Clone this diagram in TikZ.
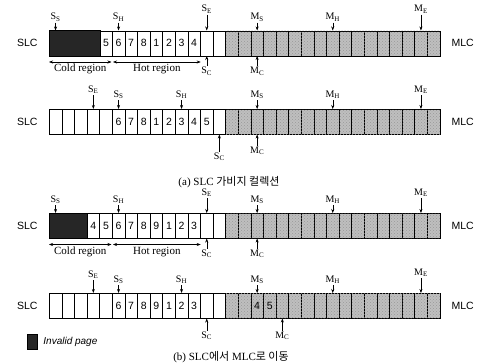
\documentclass[tikz,border=0pt]{standalone}
\usepackage{fontspec}
\setmainfont{Liberation Serif}
\setsansfont{Liberation Sans}
\newfontfamily\krfont{Noto Sans CJK KR}
\usetikzlibrary{positioning,fit,patterns,arrows.meta}

\begin{document}
\begin{tikzpicture}[
    x=1pt, y=-1pt,
    cell/.style={rectangle, draw, line width=0.5pt, anchor=north west, inner sep=0pt,
                 minimum width=12.6pt, minimum height=25pt,
                 font=\sffamily\fontsize{10.5}{11}\selectfont},
    slc/.style={cell, fill=white},
    mlc/.style={cell, fill=black!25, postaction={pattern=crosshatch dots, pattern color=black!40}},
    inv/.style={rectangle, draw, line width=0.5pt, inner sep=0pt, fill=black!85},
    lbl/.style={inner sep=1pt, font=\fontsize{10}{11}\selectfont},
    side/.style={font=\sffamily\fontsize{10.5}{12}\selectfont},
    ptr/.style={-{Stealth[length=4pt,width=3pt]}, line width=0.5pt},
    region/.style={{Stealth[length=4pt,width=3pt]}-{Stealth[length=4pt,width=3pt]}, line width=0.5pt},
    regtext/.style={inner sep=1pt, font=\fontsize{11}{12}\selectfont},
    caption/.style={font=\fontsize{11}{13}\selectfont}
  ]
  \useasboundingbox (0,0) rectangle (477,364);

  % ---- (a) row 1: before garbage collection ----
  \foreach \t [count=\i from 0] in {{},{},{},{},5,6,7,8,1,2,3,4,{},{}}
    \node[slc] (a\i) at ({49+\i*12.6},30.5) {\t};
  \foreach \i in {0,...,16}
    \node[mlc] (am\i) at ({225.4+\i*12.6},30.5) {};
  \node[inv, fit=(a0)(a3)] (ainv) {};
  \node[side, left=8pt of a0] (aslc) {SLC};
  \node[side, right=8pt of am16] (amlc) {MLC};

  \node[lbl, above=8pt of a0]   (ass) {S\textsubscript{S}};
  \node[lbl, above=8pt of a5]   (ash) {S\textsubscript{H}};
  \node[lbl, above=16pt of a12] (ase) {S\textsubscript{E}};
  \node[lbl, below=10pt of a12] (asc) {S\textsubscript{C}};
  \node[lbl, above=8pt of am2]  (ams) {M\textsubscript{S}};
  \node[lbl, above=8pt of am8]  (amh) {M\textsubscript{H}};
  \node[lbl, above=16pt of am15] (ame) {M\textsubscript{E}};
  \node[lbl, below=10pt of am2] (amc) {M\textsubscript{C}};
  \foreach \p/\c in {ass/a0, ash/a5, ase/a12, asc/a12, ams/am2, amh/am8, ame/am15, amc/am2}
    \draw[ptr] (\p) -- (\c);

  \draw[region] ([yshift=-6pt]a0.south west)
    -- node[regtext, below=1pt] (acold) {Cold region} ([yshift=-6pt,xshift=-1pt]a4.south east);
  \draw[region] ([yshift=-6pt,xshift=1pt]a5.south west)
    -- node[regtext, below=1pt] (ahot) {Hot region} ([yshift=-6pt]a11.south east);

  % ---- (a) row 2: after garbage collection ----
  \foreach \t [count=\i from 0] in {{},{},{},{},{},6,7,8,1,2,3,4,5,{}}
    \node[slc] (b\i) at ({49+\i*12.6},109) {\t};
  \foreach \i in {0,...,16}
    \node[mlc] (bm\i) at ({225.4+\i*12.6},109) {};
  \node[side, left=8pt of b0] (bslc) {SLC};
  \node[side, right=8pt of bm16] (bmlc) {MLC};

  \node[lbl, above=14pt of b3]  (bse) {S\textsubscript{E}};
  \node[lbl, above=9pt of b5]   (bss) {S\textsubscript{S}};
  \node[lbl, above=9pt of b10]  (bsh) {S\textsubscript{H}};
  \node[lbl, below=17pt of b13] (bsc) {S\textsubscript{C}};
  \node[lbl, above=9pt of bm2]  (bms) {M\textsubscript{S}};
  \node[lbl, above=9pt of bm8]  (bmh) {M\textsubscript{H}};
  \node[lbl, above=14pt of bm15] (bme) {M\textsubscript{E}};
  \node[lbl, below=11pt of bm2] (bmc) {M\textsubscript{C}};
  \foreach \p/\c in {bse/b3, bss/b5, bsh/b10, bsc/b13, bms/bm2, bmh/bm8, bme/bm15, bmc/bm2}
    \draw[ptr] (\p) -- (\c);

  \node[caption] (capa) at (229,182) {(a) SLC {\krfont 가비지 컬렉션}};

  % ---- (b) row 3: before moving ----
  \foreach \t [count=\i from 0] in {{},{},{},4,5,6,7,8,9,1,2,3,{},{}}
    \node[slc] (c\i) at ({49+\i*12.6},213) {\t};
  \foreach \i in {0,...,16}
    \node[mlc] (cm\i) at ({225.4+\i*12.6},213) {};
  \node[inv, fit=(c0)(c2)] (cinv) {};
  \node[side, left=8pt of c0] (cslc) {SLC};
  \node[side, right=8pt of cm16] (cmlc) {MLC};

  \node[lbl, above=8pt of c0]   (css) {S\textsubscript{S}};
  \node[lbl, above=8pt of c5]   (csh) {S\textsubscript{H}};
  \node[lbl, above=15pt of c12] (cse) {S\textsubscript{E}};
  \node[lbl, below=10pt of c12] (csc) {S\textsubscript{C}};
  \node[lbl, above=8pt of cm2]  (cms) {M\textsubscript{S}};
  \node[lbl, above=8pt of cm8]  (cmh) {M\textsubscript{H}};
  \node[lbl, above=15pt of cm15] (cme) {M\textsubscript{E}};
  \node[lbl, below=10pt of cm2] (cmc) {M\textsubscript{C}};
  \foreach \p/\c in {css/c0, csh/c5, cse/c12, csc/c12, cms/cm2, cmh/cm8, cme/cm15, cmc/cm2}
    \draw[ptr] (\p) -- (\c);

  \draw[region] ([yshift=-6pt]c0.south west)
    -- node[regtext, below=1pt] (ccold) {Cold region} ([yshift=-6pt,xshift=-1pt]c4.south east);
  \draw[region] ([yshift=-6pt,xshift=1pt]c5.south west)
    -- node[regtext, below=1pt] (chot) {Hot region} ([yshift=-6pt]c11.south east);

  % ---- (b) row 4: after moving to MLC ----
  \foreach \t [count=\i from 0] in {{},{},{},{},{},6,7,8,9,1,2,3,{},{}}
    \node[slc] (d\i) at ({49+\i*12.6},293) {\t};
  \foreach \t [count=\i from 0] in {{},{},4,5,{},{},{},{},{},{},{},{},{},{},{},{},{}}
    \node[mlc] (dm\i) at ({225.4+\i*12.6},293) {\t};
  \node[side, left=8pt of d0] (dslc) {SLC};
  \node[side, right=8pt of dm16] (dmlc) {MLC};

  \node[lbl, above=13pt of d3]  (dse) {S\textsubscript{E}};
  \node[lbl, above=8pt of d5]   (dss) {S\textsubscript{S}};
  \node[lbl, above=8pt of d10]  (dsh) {S\textsubscript{H}};
  \node[lbl, below=12pt of d12] (dsc) {S\textsubscript{C}};
  \node[lbl, above=8pt of dm2]  (dms) {M\textsubscript{S}};
  \node[lbl, above=8pt of dm8]  (dmh) {M\textsubscript{H}};
  \node[lbl, above=15pt of dm15] (dme) {M\textsubscript{E}};
  \node[lbl, below=12pt of dm4] (dmc) {M\textsubscript{C}};
  \foreach \p/\c in {dse/d3, dss/d5, dsh/d10, dsc/d12, dms/dm2, dmh/dm8, dme/dm15, dmc/dm4}
    \draw[ptr] (\p) -- (\c);

  % ---- legend and caption ----
  \node[inv, minimum width=10pt, minimum height=15pt] (leg) at (32,341.5) {};
  \node[right=6pt of leg, inner sep=0pt, font=\sffamily\itshape\fontsize{10}{11}\selectfont] (legtxt) {Invalid page};
  \node[caption] (capb) at (231,357) {(b) SLC{\krfont 에서} MLC{\krfont 로 이동}};
\end{tikzpicture}
\end{document}
